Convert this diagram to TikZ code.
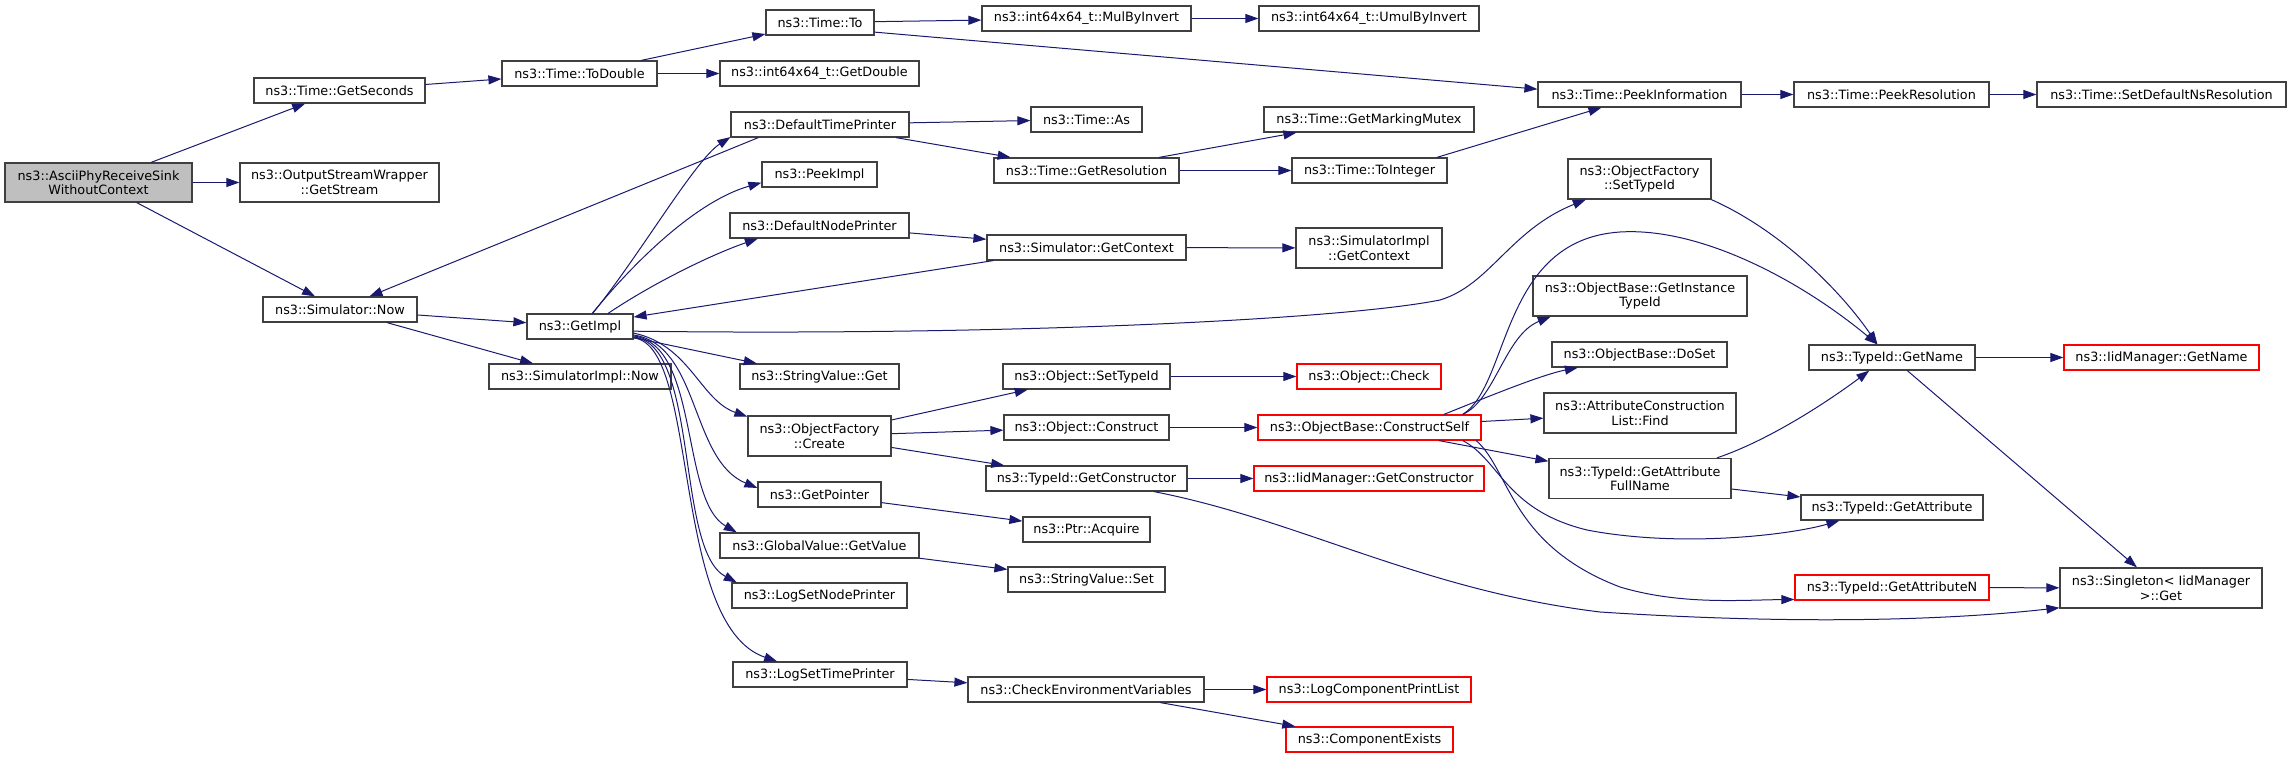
\documentclass[tikz,border=0pt]{standalone}
\usepackage{fontspec}
\setmainfont{DejaVu Sans}
\usetikzlibrary{arrows.meta}
\definecolor{edgecol}{HTML}{191970}
\definecolor{boxcol}{HTML}{404040}
\definecolor{rootgray}{HTML}{BFBFBF}
\definecolor{trunc}{HTML}{FF0000}
\tikzset{
  fnbox/.style={draw=boxcol, line width=1.2pt, inner sep=0pt, fill=white,
    font=\fontsize{12.8pt}{14.5pt}\selectfont, align=center, minimum height=25pt},
  fnred/.style={fnbox, draw=trunc},
  callarrow/.style={draw=edgecol, line width=1pt, -{Triangle[length=13pt,width=9pt]}}
}
\begin{document}
\begin{tikzpicture}[x=1pt,y=-1pt]
\useasboundingbox (0,0) rectangle (2291,759);
% nodes
\node[fnbox, fill=rootgray, minimum width=187pt, minimum height=39pt] (ascii) at (98.5,182.5) {ns3::AsciiPhyReceiveSink\\WithoutContext};
\node[fnbox, minimum width=171pt] (gsec) at (339.5,90.5) {ns3::Time::GetSeconds};
\node[fnbox, minimum width=199pt, minimum height=39pt] (osw) at (339.5,182.5) {ns3::OutputStreamWrapper\\::GetStream};
\node[fnbox, minimum width=154pt] (snow) at (340,309.5) {ns3::Simulator::Now};
\node[fnbox, minimum width=155pt] (todbl) at (579.5,73.5) {ns3::Time::ToDouble};
\node[fnbox, minimum width=108pt] (tto) at (820,22.5) {ns3::Time::To};
\node[fnbox, minimum width=199pt] (gdbl) at (819.5,73.5) {ns3::int64x64\_t::GetDouble};
\node[fnbox, minimum width=178pt] (dtp) at (820,124.5) {ns3::DefaultTimePrinter};
\node[fnbox, minimum width=115pt] (peek) at (819.5,174.5) {ns3::PeekImpl};
\node[fnbox, minimum width=179pt] (dnp) at (819.5,225.5) {ns3::DefaultNodePrinter};
\node[fnbox, minimum width=106pt] (gimpl) at (580,326.5) {ns3::GetImpl};
\node[fnbox, minimum width=182pt] (simnow) at (580,376.5) {ns3::SimulatorImpl::Now};
\node[fnbox, minimum width=159pt] (svget) at (819.5,376.5) {ns3::StringValue::Get};
\node[fnbox, minimum width=209pt] (mulinv) at (1086.5,18.5) {ns3::int64x64\_t::MulByInvert};
\node[fnbox, minimum width=220pt] (umul) at (1369,18.5) {ns3::int64x64\_t::UmulByInvert};
\node[fnbox, minimum width=111pt] (tas) at (1086.5,119.5) {ns3::Time::As};
\node[fnbox, minimum width=185pt] (gres) at (1086.5,170.5) {ns3::Time::GetResolution};
\node[fnbox, minimum width=199pt] (sgctx) at (1086.5,247.5) {ns3::Simulator::GetContext};
\node[fnbox, minimum width=167pt] (osti) at (1086.5,376.5) {ns3::Object::SetTypeId};
\node[fnbox, minimum width=210pt] (mutex) at (1369,119.5) {ns3::Time::GetMarkingMutex};
\node[fnbox, minimum width=155pt] (toint) at (1369.5,170.5) {ns3::Time::ToInteger};
\node[fnbox, minimum width=146pt, minimum height=40pt] (sictx) at (1369,248) {ns3::SimulatorImpl\\::GetContext};
\node[fnred, minimum width=144pt] (check) at (1369,376.5) {ns3::Object::Check};
\node[fnbox, minimum width=203pt] (peekinfo) at (1639.5,94.5) {ns3::Time::PeekInformation};
\node[fnbox, minimum width=195pt] (peekres) at (1891.5,94.5) {ns3::Time::PeekResolution};
\node[fnbox, minimum width=249pt] (setdef) at (2161.5,94.5) {ns3::Time::SetDefaultNsResolution};
\node[fnbox, minimum width=143pt, minimum height=40pt] (ofsti) at (1639.5,179) {ns3::ObjectFactory\\::SetTypeId};
\node[fnbox, minimum width=214pt, minimum height=40pt] (ginst) at (1640,296) {ns3::ObjectBase::GetInstance\\TypeId};
\node[fnbox, minimum width=175pt] (doset) at (1639.5,354.5) {ns3::ObjectBase::DoSet};
\node[fnbox, minimum width=166pt] (tgname) at (1892,357.5) {ns3::TypeId::GetName};
\node[fnred, minimum width=195pt] (iidname) at (2161.5,357.5) {ns3::IidManager::GetName};
\node[fnbox, minimum width=143pt, minimum height=40pt] (ofcreate) at (819.5,436) {ns3::ObjectFactory\\::Create};
\node[fnbox, minimum width=123pt] (gptr) at (819.5,494.5) {ns3::GetPointer};
\node[fnbox, minimum width=199pt] (gval) at (819.5,545.5) {ns3::GlobalValue::GetValue};
\node[fnbox, minimum width=175pt] (lsnp) at (819.5,595.5) {ns3::LogSetNodePrinter};
\node[fnbox, minimum width=174pt] (lstp) at (820,674.5) {ns3::LogSetTimePrinter};
\node[fnbox, minimum width=165pt] (ocons) at (1086.5,427.5) {ns3::Object::Construct};
\node[fnbox, minimum width=201pt] (gcons) at (1086.5,478.5) {ns3::TypeId::GetConstructor};
\node[fnbox, minimum width=127pt] (acq) at (1086.5,529.5) {ns3::Ptr::Acquire};
\node[fnbox, minimum width=157pt] (svset) at (1086.5,579.5) {ns3::StringValue::Set};
\node[fnbox, minimum width=236pt] (cenv) at (1086,689.5) {ns3::CheckEnvironmentVariables};
\node[fnred, minimum width=223pt] (cself) at (1369.5,427.5) {ns3::ObjectBase::ConstructSelf};
\node[fnred, minimum width=230pt] (iidcons) at (1369,478.5) {ns3::IidManager::GetConstructor};
\node[fnred, minimum width=204pt] (lcpl) at (1369,689.5) {ns3::LogComponentPrintList};
\node[fnred, minimum width=167pt] (cexists) at (1369.5,739.5) {ns3::ComponentExists};
\node[fnbox, minimum width=192pt, minimum height=40pt] (acfind) at (1640,413) {ns3::AttributeConstruction\\List::Find};
\node[fnbox, minimum width=182pt, minimum height=40pt] (gafn) at (1640,478.5) {ns3::TypeId::GetAttribute\\FullName};
\node[fnbox, minimum width=182pt] (gattr) at (1892,507.5) {ns3::TypeId::GetAttribute};
\node[fnred, minimum width=194pt] (gattrn) at (1892,587.5) {ns3::TypeId::GetAttributeN};
\node[fnbox, minimum width=202pt, minimum height=40pt] (single) at (2161,588) {ns3::Singleton< IidManager\\>::Get};
% edges
\draw[callarrow] (ascii) -- (gsec);
\draw[callarrow] (ascii) -- (osw);
\draw[callarrow] (ascii) -- (snow);
\draw[callarrow] (gsec.4) -- (todbl.184);
\draw[callarrow] (todbl) -- (tto);
\draw[callarrow] (todbl) -- (gdbl);
\draw[callarrow] (tto) -- (mulinv);
\draw[callarrow] (tto.-10) -- (peekinfo.177);
\draw[callarrow] (mulinv) -- (umul);
\draw[callarrow] (peekinfo) -- (peekres);
\draw[callarrow] (peekres) -- (setdef);
\draw[callarrow] (snow) -- (gimpl);
\draw[callarrow] (snow) -- (simnow);
\draw[callarrow] (dtp.192) -- (snow.24);
\draw[callarrow] (gimpl.46) .. controls (640,255) and (695,160) .. (dtp.188);
\draw[callarrow] (gimpl.47) .. controls (640,255) and (700,200) .. (peek.188);
\draw[callarrow] (gimpl.25) .. controls (650,285) and (710,255) .. (dnp.192);
\draw[callarrow] (dnp) -- (sgctx);
\draw[callarrow] (sgctx.188) -- (gimpl.10);
\draw[callarrow] (sgctx) -- (sictx);
\draw[callarrow] (dtp) -- (tas);
\draw[callarrow] (dtp) -- (gres);
\draw[callarrow] (gres) -- (mutex);
\draw[callarrow] (gres) -- (toint);
\draw[callarrow] (toint.11) -- (peekinfo.199);
\draw[callarrow] (gimpl.-5) .. controls (1000,336) and (1340,320) .. (1440,300) .. controls (1490,285) and (1510,230) .. (ofsti.201);
\draw[callarrow] (gimpl) -- (svget);
\draw[callarrow] (gimpl.-7) .. controls (690,345) and (700,400) .. (ofcreate.165);
\draw[callarrow] (gimpl.-9) .. controls (700,345) and (690,460) .. (gptr.174);
\draw[callarrow] (gimpl.-10) .. controls (700,345) and (680,500) .. (gval.171);
\draw[callarrow] (gimpl.-11) .. controls (700,345) and (675,550) .. (lsnp.171);
\draw[callarrow] (gimpl.-12) .. controls (700,345) and (670,625) .. (lstp.163);
\draw[callarrow] (ofcreate) -- (osti);
\draw[callarrow] (ofcreate) -- (ocons);
\draw[callarrow] (ofcreate) -- (gcons);
\draw[callarrow] (osti) -- (check);
\draw[callarrow] (ocons) -- (cself);
\draw[callarrow] (gcons) -- (iidcons);
\draw[callarrow] (gcons.-11) .. controls (1300,520) and (1420,590) .. (1600,612) .. controls (1800,625) and (1950,620) .. (single.191);
\draw[callarrow] (gptr) -- (acq);
\draw[callarrow] (gval) -- (svset);
\draw[callarrow] (lstp) -- (cenv);
\draw[callarrow] (cenv) -- (lcpl);
\draw[callarrow] (cenv) -- (cexists);
\draw[callarrow] (ofsti.-16) .. controls (1780,230) and (1840,290) .. (tgname.138);
\draw[callarrow] (cself.8) .. controls (1510,385) and (1500,240) .. (1620,232) .. controls (1700,227) and (1800,280) .. (tgname.138);
\draw[callarrow] (cself.8) .. controls (1495,400) and (1505,335) .. (ginst.193);
\draw[callarrow] (cself.10) .. controls (1480,400) and (1540,375) .. (doset.192);
\draw[callarrow] (cself) -- (acfind);
\draw[callarrow] (cself) -- (gafn);
\draw[callarrow] (cself.-8) .. controls (1500,460) and (1505,510) .. (1587,530) .. controls (1680,548) and (1790,535) .. (gattr.194);
\draw[callarrow] (cself.-7) .. controls (1510,470) and (1510,545) .. (1620,587) .. controls (1680,605) and (1740,600) .. (gattrn.187);
\draw[callarrow] (gafn.15) .. controls (1770,440) and (1830,400) .. (tgname.210);
\draw[callarrow] (gafn) -- (gattr);
\draw[callarrow] (gattrn) -- (single);
\draw[callarrow] (tgname) -- (iidname);
\draw[callarrow] (tgname) -- (single);
\end{tikzpicture}
\end{document}
